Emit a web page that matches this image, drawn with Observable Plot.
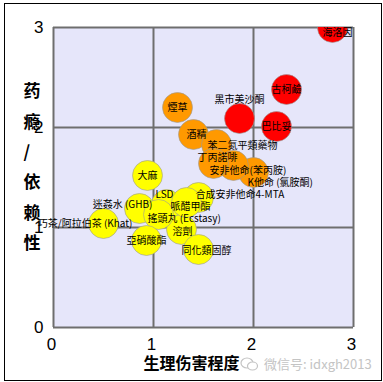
<!DOCTYPE html>
<html>
<head>
<meta charset="utf-8">
<script src="https://cdn.jsdelivr.net/npm/d3@7"></script>
<script src="https://cdn.jsdelivr.net/npm/@observablehq/plot@0.6"></script>
<style>
  html, body { margin: 0; padding: 0; background: #fff; }
  #wrap { position: relative; width: 383px; height: 382px; overflow: hidden; }
  #border { position: absolute; left: 4px; top: 3px; width: 378px; height: 378px; box-sizing: border-box; border: 1px solid #000; pointer-events: none; }
  #wm { position: absolute; left: 240px; top: 354px; font: 13px "Noto Sans CJK SC", sans-serif; color: #c4c4c4; display: flex; align-items: center; white-space: nowrap; }
  #chart svg { position: absolute; left: 0; top: 0; }
</style>
</head>
<body>
<div id="wrap">
  <div id="chart"></div>
  <div id="border"></div>
  <div id="wm"><svg width="20" height="16" viewBox="0 0 20 16"><ellipse cx="7" cy="7" rx="6" ry="5" fill="none" stroke="#c4c4c4" stroke-width="1.2"/><ellipse cx="12.5" cy="10" rx="5" ry="4" fill="#fff" stroke="#c4c4c4" stroke-width="1.2"/></svg><span style="margin-left:4px">微信号: idxgh2013</span></div>
</div>
<script>
// ---- data ----
const names = [
  "海洛因", "古柯鹼", "巴比妥", "黑市美沙酮", "酒精", "K他命 (氯胺酮)",
  "苯二氮平類藥物", "安非他命(苯丙胺)", "煙草", "丁丙諾啡", "大麻", "溶劑",
  "合成安非他命4-MTA", "LSD", "哌醋甲酯", "同化類固醇", "迷姦水 (GHB)",
  "搖頭丸 (Ecstasy)", "亞硝酸酯", "巧茶/阿拉伯茶 (Khat)"
];
const physicalHarm = [2.79, 2.33, 2.23, 1.86, 1.40, 2.00, 1.63, 1.80, 1.24, 1.60, 0.94, 1.28, 1.45, 1.13, 1.33, 1.45, 0.86, 1.05, 0.93, 0.50];
const dependence   = [3.00, 2.38, 2.01, 2.09, 1.93, 1.55, 1.83, 1.62, 2.20, 1.64, 1.52, 0.98, 1.30, 1.23, 1.25, 0.78, 1.19, 1.13, 0.87, 1.04];
const riskLevel    = ["高", "高", "高", "高", "中", "中", "中", "中", "中", "中", "低", "低", "低", "低", "低", "低", "低", "低", "低", "低"];
const xTicks = [0, 1, 2, 3];
const yTicks = [0, 1, 2, 3];
const xTitle = "生理伤害程度";
const yTitle = "药\n瘾\n/\n依\n赖\n性";

// ---- label placement (style) ----
const labelStyle = {
  "海洛因": [5, 5, "middle"],
  "黑市美沙酮": [0, -19, "middle"],
  "酒精": [3, 0, "middle"],
  "苯二氮平類藥物": [-9, 1, "start"],
  "丁丙諾啡": [4, -6, "middle"],
  "安非他命(苯丙胺)": [-24, 5, "start"],
  "K他命 (氯胺酮)": [-6, 10, "start"],
  "合成安非他命4-MTA": [-3, -3, "start"],
  "LSD": [-2, -10, "middle"],
  "哌醋甲酯": [4, 4, "middle"],
  "迷姦水 (GHB)": [13, -4, "end"],
  "搖頭丸 (Ecstasy)": [-11, 4, "start"],
  "巧茶/阿拉伯茶 (Khat)": [29, 0, "end"],
  "溶劑": [1, 2, "middle"],
  "同化類固醇": [8, 1, "middle"]
};

const rows = names.map((n, i) => ({name: n, x: physicalHarm[i], y: dependence[i], level: riskLevel[i]}));

const labelMarks = rows.map(r => {
  const [dx, dy, anchor] = labelStyle[r.name] || [0, 0, "middle"];
  return Plot.text([r], {
    x: "x", y: "y", text: "name", dx, dy, textAnchor: anchor,
    fontSize: 10, fill: "#000",
    fontFamily: "'Noto Sans CJK TC', sans-serif"
  });
});

const chart = Plot.plot({
  width: 383,
  height: 382,
  marginLeft: 53,
  marginRight: 30,
  marginTop: 27,
  marginBottom: 55,
  style: {background: "transparent", fontFamily: "'Liberation Sans', Arial, sans-serif", overflow: "visible"},
  x: {domain: [0, 3]},
  y: {domain: [0, 3]},
  color: {domain: ["高", "中", "低"], range: ["#ff0000", "#ff9900", "#ffff00"]},
  marks: [
    Plot.frame({fill: "#e6e6fa", stroke: null}),
    Plot.gridX(xTicks, {stroke: "#6e6e6e", strokeWidth: 2, strokeOpacity: 1}),
    Plot.gridY(yTicks, {stroke: "#6e6e6e", strokeWidth: 2, strokeOpacity: 1}),
    Plot.axisX(xTicks, {tickSize: 0, tickPadding: 10, fontSize: 17, dx: -2, label: null, tickFormat: d => String(d)}),
    Plot.axisY(yTicks, {tickSize: 0, tickPadding: 10, fontSize: 17, label: null, tickFormat: d => String(d)}),
    Plot.dot(rows, {x: "x", y: "y", r: 15, fill: "level", stroke: "#9a9a9a", strokeOpacity: 0.6, strokeWidth: 1, clip: true}),
    ...labelMarks,
    Plot.text([xTitle], {frameAnchor: "bottom", dx: -12, dy: 41, fontSize: 16, fontWeight: "bold", fill: "#000", fontFamily: "'Noto Sans CJK SC', sans-serif"}),
    Plot.text([yTitle], {frameAnchor: "left", dx: -30, dy: -14, fontSize: 17, fontWeight: "bold", lineHeight: 1.79, fill: "#000", fontFamily: "'Noto Sans CJK SC', sans-serif"})
  ]
});
document.getElementById("chart").appendChild(chart);
</script>
</body>
</html>
